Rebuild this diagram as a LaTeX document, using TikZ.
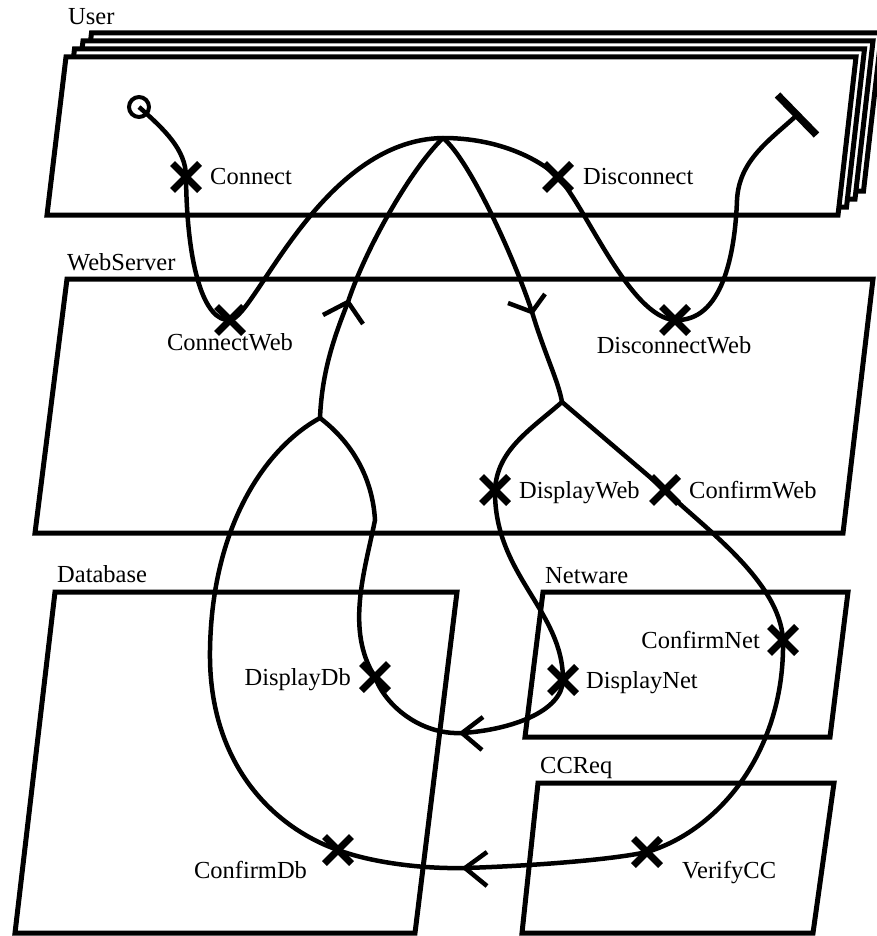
\documentclass[tikz,border=0pt]{standalone}
\usepackage{fontspec}
\setmainfont{Liberation Serif}
\usetikzlibrary{shapes.misc}
\begin{document}
\begin{tikzpicture}[x=1pt,y=-1pt,
  box/.style={draw=black, line width=5pt, fill=white, line join=miter},
  ucm/.style={draw=black, line width=4.5pt},
  barb/.style={draw=black, line width=4.5pt},
  resp/.style={cross out, draw=black, line width=7pt, minimum size=20pt, inner sep=0pt},
  startpt/.style={circle, draw=black, line width=4pt, minimum size=20pt, inner sep=0pt},
  endbar/.style={draw=black, line width=7.5pt},
  lbl/.style={font=\fontsize{24.5}{29}\selectfont, inner sep=0pt}
]
\useasboundingbox (0,0) rectangle (876,936);

% ---- components ----
\foreach \k in {3,2,1} {
  \draw[box, shift={(8.5*\k,-8*\k)}] (66,57) -- (856,57) -- (838,215) -- (47,215) -- cycle;
}
\draw[box] (66,57) -- (856,57) -- (838,215) -- (47,215) -- cycle;
\draw[box] (67,279) -- (873,279) -- (843,533) -- (35,533) -- cycle;
\draw[box] (55,592) -- (457,592) -- (415,933) -- (15,933) -- cycle;
\draw[box] (543,592) -- (848,592) -- (830,737) -- (525,737) -- cycle;
\draw[box] (538,783) -- (834,783) -- (813,933) -- (522,933) -- cycle;

\node[lbl, anchor=base west] (luser) at (68,25) {User};
\node[lbl, anchor=base west] (lweb) at (67,270) {WebServer};
\node[lbl, anchor=base west] (ldb) at (57,582) {Database};
\node[lbl, anchor=base west] (lnet) at (545,583) {Netware};
\node[lbl, anchor=base west] (lcc) at (540,773) {CCReq};

% ---- path points ----
\node[startpt] (s) at (139,107) {};
\coordinate (A) at (443,138);
\coordinate (E) at (797,115);
\coordinate (J1) at (320,418);
\coordinate (J2) at (562,402);
\coordinate (AR1) at (348,302);
\coordinate (AR2) at (532,312);
\coordinate (AR3) at (462,733);
\coordinate (AR4) at (465,868);
\coordinate (M1) at (737,200);
\coordinate (M2) at (210,650);
\coordinate (M3) at (375,520);

% ---- responsibilities ----
\node[resp] (c1) at (186,177) {};
\node[resp] (cw) at (230,320) {};
\node[resp] (d1) at (558,177) {};
\node[resp] (dw) at (675,320) {};
\node[resp] (dweb) at (495,490) {};
\node[resp] (cweb) at (665,490) {};
\node[resp] (dnet) at (563,680) {};
\node[resp] (cnet) at (783,640) {};
\node[resp] (ddb) at (375,677) {};
\node[resp] (cdb) at (338,850) {};
\node[resp] (vcc) at (647,852) {};

% ---- main path ----
\draw[ucm] (s.center) .. controls (165,130) and (186,150) .. (c1.center)
  .. controls (187,270) and (205,322) .. (cw.center)
  .. controls (255,318) and (320,140) .. (A)
  .. controls (500,138) and (540,160) .. (d1.center)
  .. controls (585,205) and (630,318) .. (dw.center)
  .. controls (722,322) and (735,255) .. (M1)
  .. controls (739,160) and (770,140) .. (E);
\draw[endbar] ([shift={(-19.5,-20)}]E) -- ([shift={(19.5,20)}]E);

% ---- loop ----
\draw[ucm] (J1) .. controls (322,370) and (335,335) .. (AR1)
  .. controls (365,250) and (410,170) .. (A);
\draw[barb] ([shift={(-25,13)}]AR1) -- (AR1) -- ([shift={(15,22)}]AR1);

\draw[ucm] (A) .. controls (470,160) and (515,260) .. (AR2)
  .. controls (545,355) and (558,380) .. (J2);
\draw[barb] ([shift={(-24,-9)}]AR2) -- (AR2) -- ([shift={(13,-18)}]AR2);

\draw[ucm] (J2) -- (cweb.center)
  .. controls (700,525) and (780,580) .. (cnet.center)
  .. controls (785,750) and (720,830) .. (vcc.center)
  .. controls (610,860) and (530,866) .. (AR4)
  .. controls (420,869) and (370,862) .. (cdb.center)
  .. controls (280,830) and (208,770) .. (M2)
  .. controls (212,520) and (270,445) .. (J1);
\draw[barb] ([shift={(22,-16)}]AR4) -- (AR4) -- ([shift={(22,18)}]AR4);

\draw[ucm] (J2) .. controls (530,430) and (497,450) .. (dweb.center)
  .. controls (494,575) and (563,610) .. (dnet.center)
  .. controls (562,712) and (510,730) .. (AR3)
  .. controls (420,735) and (385,705) .. (ddb.center)
  .. controls (345,630) and (365,570) .. (M3)
  .. controls (372,470) and (345,437) .. (J1);
\draw[barb] ([shift={(21,-16)}]AR3) -- (AR3) -- ([shift={(20,17)}]AR3);

% ---- labels ----
\node[lbl, anchor=base west] (tc1) at (210,185) {Connect};
\node[lbl, anchor=base west] (td1) at (583,185) {Disconnect};
\node[lbl, anchor=base] (tcw) at (230,350) {ConnectWeb};
\node[lbl, anchor=base] (tdw) at (674,353) {DisconnectWeb};
\node[lbl, anchor=base west] (tdweb) at (519,498) {DisplayWeb};
\node[lbl, anchor=base west] (tcweb) at (689,498) {ConfirmWeb};
\node[lbl, anchor=base east] (tddb) at (351,685) {DisplayDb};
\node[lbl, anchor=base] (tcdb) at (250.5,878) {ConfirmDb};
\node[lbl, anchor=base east] (tcnet) at (760,648) {ConfirmNet};
\node[lbl, anchor=base west] (tdnet) at (586,688) {DisplayNet};
\node[lbl, anchor=base west] (tvcc) at (682,878) {VerifyCC};
\end{tikzpicture}
\end{document}
